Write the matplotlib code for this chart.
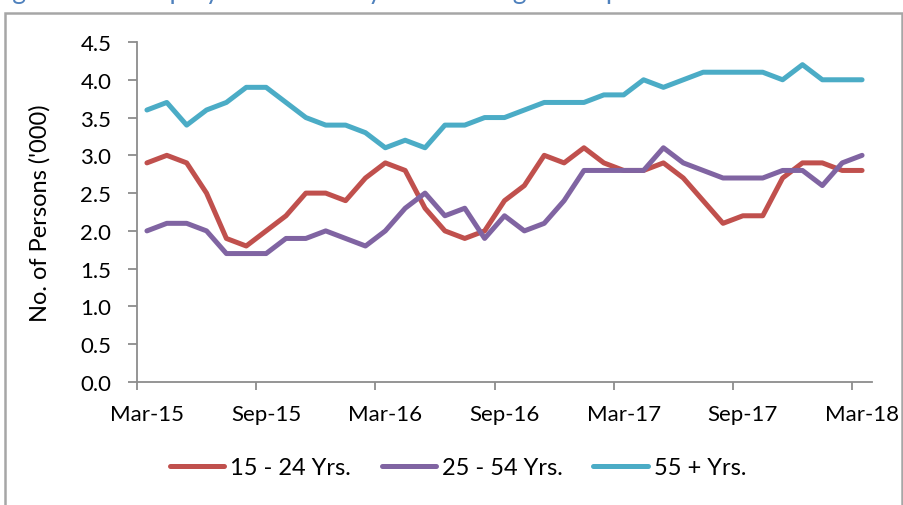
import matplotlib.pyplot as plt
from matplotlib.patches import Rectangle

plt.rcParams['font.family'] = ['Lato', 'DejaVu Sans']

months = ['Mar-15', 'Apr-15', 'May-15', 'Jun-15', 'Jul-15', 'Aug-15', 'Sep-15', 'Oct-15',
          'Nov-15', 'Dec-15', 'Jan-16', 'Feb-16', 'Mar-16', 'Apr-16', 'May-16', 'Jun-16',
          'Jul-16', 'Aug-16', 'Sep-16', 'Oct-16', 'Nov-16', 'Dec-16', 'Jan-17', 'Feb-17',
          'Mar-17', 'Apr-17', 'May-17', 'Jun-17', 'Jul-17', 'Aug-17', 'Sep-17', 'Oct-17',
          'Nov-17', 'Dec-17', 'Jan-18', 'Feb-18', 'Mar-18']
age_15_24 = [2.9, 3.0, 2.9, 2.5, 1.9, 1.8, 2.0, 2.2, 2.5, 2.5, 2.4, 2.7, 2.9, 2.8, 2.3, 2.0,
             1.9, 2.0, 2.4, 2.6, 3.0, 2.9, 3.1, 2.9, 2.8, 2.8, 2.9, 2.7, 2.4, 2.1, 2.2, 2.2,
             2.7, 2.9, 2.9, 2.8, 2.8]
age_25_54 = [2.0, 2.1, 2.1, 2.0, 1.7, 1.7, 1.7, 1.9, 1.9, 2.0, 1.9, 1.8, 2.0, 2.3, 2.5, 2.2,
             2.3, 1.9, 2.2, 2.0, 2.1, 2.4, 2.8, 2.8, 2.8, 2.8, 3.1, 2.9, 2.8, 2.7, 2.7, 2.7,
             2.8, 2.8, 2.6, 2.9, 3.0]
age_55_plus = [3.6, 3.7, 3.4, 3.6, 3.7, 3.9, 3.9, 3.7, 3.5, 3.4, 3.4, 3.3, 3.1, 3.2, 3.1, 3.4,
               3.4, 3.5, 3.5, 3.6, 3.7, 3.7, 3.7, 3.8, 3.8, 4.0, 3.9, 4.0, 4.1, 4.1, 4.1, 4.1,
               4.0, 4.2, 4.0, 4.0, 4.0]
series = [('15 - 24 Yrs.', age_15_24, '#C0504D'),
          ('25 - 54 Yrs.', age_25_54, '#8064A2'),
          ('55 + Yrs.', age_55_plus, '#4BACC6')]

fig = plt.figure(figsize=(9.04, 5.06), dpi=100)
ax = fig.add_axes([137/904, 1-383/506, 735/904, 340/506])

x = range(len(months))
for name, vals, col in series:
    ax.plot(x, vals, color=col, lw=3.6, label=name, solid_capstyle='round')

ax.set_xlim(-0.5, len(months) - 0.5)
ax.set_ylim(0, 4.5)
ax.set_yticks([i * 0.5 for i in range(10)])
ax.set_yticklabels(['%.1f' % (i * 0.5) for i in range(10)])

# ticks between categories, labels centred on the category
ax.set_xticks([i - 0.5 for i in range(0, len(months), 6)])
ax.set_xticklabels([])
ax.set_xticks(range(0, len(months), 6), minor=True)
ax.set_xticklabels([months[i] for i in range(0, len(months), 6)], minor=True)
ax.tick_params(axis='x', which='minor', length=0, pad=16, labelsize=16)
ax.tick_params(axis='x', which='major', length=6, width=1.3, color='#8c8c8c')
ax.tick_params(axis='y', length=6.5, width=1.3, color='#8c8c8c', labelsize=16, pad=12)

for s in ['top', 'right']:
    ax.spines[s].set_visible(False)
for s in ['left', 'bottom']:
    ax.spines[s].set_color('#8c8c8c')
    ax.spines[s].set_linewidth(1.3)

ax.set_ylabel("No. of Persons ('000)", fontsize=17)
ax.yaxis.set_label_coords(-0.118, 0.5)

fig.legend(loc='center', bbox_to_anchor=(458/904, 1-469/506), ncol=3, frameon=False,
           fontsize=17, handlelength=2.3, columnspacing=1.3, handletextpad=0.25)

fig.patches.append(Rectangle((5/904, -0.1), 897/904, 1.1-14/506, transform=fig.transFigure,
                             fill=False, edgecolor='#a6a6a6', lw=1.8))
# caption above the chart, cut off by the top edge as in the source
fig.text(-0.01, 1 + 1/506, 'Figure 4: Unemployed Persons by Selected Age Groups',
         color='#4F81BD', fontsize=19, va='baseline', ha='left')

plt.savefig('out.png', dpi=100)
